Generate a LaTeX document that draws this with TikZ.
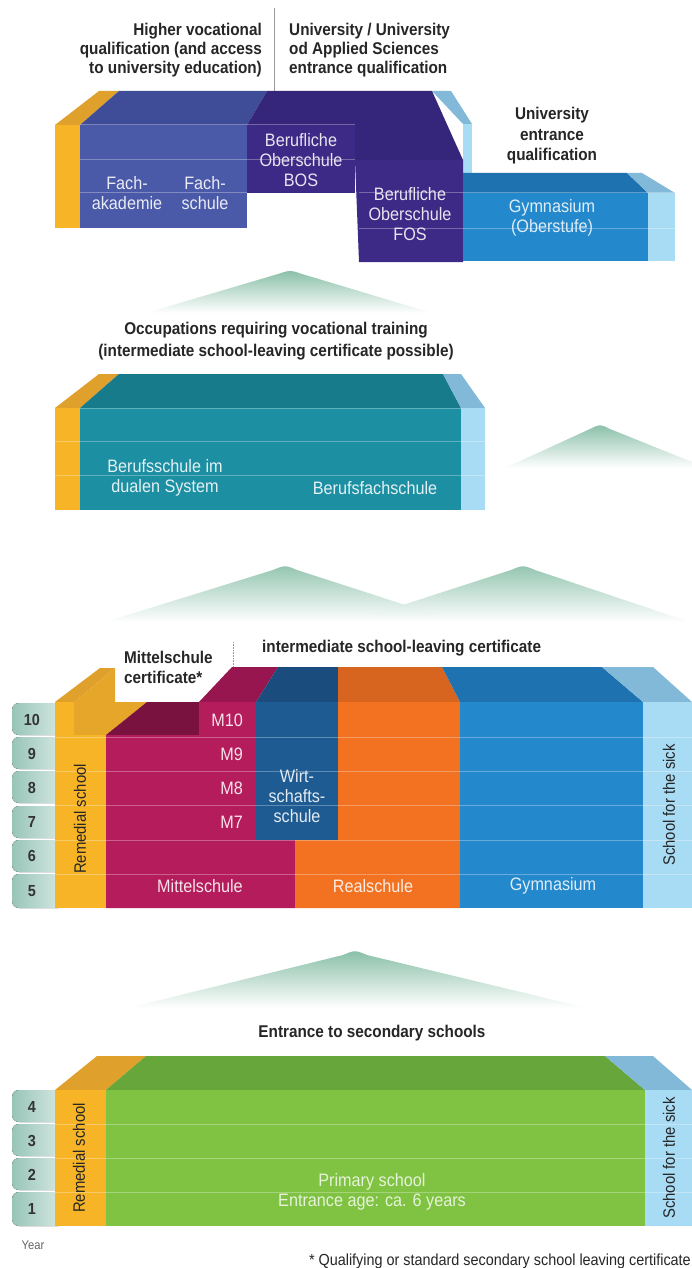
\documentclass[tikz,border=0pt]{standalone}
\usepackage{fontspec}
\setmainfont{Liberation Sans}[FakeStretch=0.9]

\definecolor{remedial}{HTML}{F6B426}
\definecolor{remedialtop}{HTML}{DFA02C}
\definecolor{fach}{HTML}{4A59A8}
\definecolor{fachtop}{HTML}{3F4D99}
\definecolor{bos}{HTML}{3C2A86}
\definecolor{bostop}{HTML}{36267B}
\definecolor{gym}{HTML}{2488CC}
\definecolor{gymtop}{HTML}{1F72B0}
\definecolor{sick}{HTML}{A8DCF4}
\definecolor{sicktop}{HTML}{82B9D8}
\definecolor{dual}{HTML}{1C8FA2}
\definecolor{dualtop}{HTML}{177B8C}
\definecolor{mittel}{HTML}{B51C5B}
\definecolor{mitteltop}{HTML}{981650}
\definecolor{wirt}{HTML}{1D5B92}
\definecolor{wirttop}{HTML}{1A4D7E}
\definecolor{real}{HTML}{F27222}
\definecolor{realtop}{HTML}{D8651F}
\definecolor{primary}{HTML}{80C242}
\definecolor{primarytop}{HTML}{67A63A}
\definecolor{mtn}{HTML}{88BFA8}
\definecolor{yeartabc}{HTML}{98C5B8}
\definecolor{headc}{HTML}{262626}

\begin{document}
\begin{tikzpicture}[x=1pt,y=-1pt]

\tikzstyle{head}=[text=headc, font=\bfseries\fontsize{17}{18.8}\selectfont, inner sep=0pt]
\tikzstyle{blocktext}=[font=\fontsize{18}{20}\selectfont, align=center, inner sep=0pt]
\tikzstyle{rowline}=[white, opacity=0.3, line width=1pt]
\tikzstyle{yeartab}=[left color=yeartabc, right color=yeartabc!35, rounded corners=7pt]
\tikzstyle{yearnum}=[text=black!80, font=\bfseries\fontsize{16}{18}\selectfont, inner sep=0pt]
\tikzstyle{mountain}=[top color=mtn, bottom color=white]
\tikzstyle{sidetext}=[rotate=90, font=\fontsize{16.5}{18}\selectfont, inner sep=0pt]

\useasboundingbox[fill=white] (0,0) rectangle (692,1268);

% upper secondary
\node[head, align=right, anchor=north east] (hv) at (262,23) {Higher vocational\\qualification (and access\\to university education)};
\node[head, align=left, anchor=north west] (uq) at (289,23) {University / University\\od Applied Sciences\\entrance qualification};
\node[head, align=center, font=\bfseries\fontsize{17}{20.5}\selectfont] (uqe) at (552,136) {University\\entrance\\qualification};
\draw[black!40, line width=0.6pt] (274,8) -- (274,91);

\fill[sicktop] (432,91) -- (451,91) -- (472,124) -- (463,124) -- cycle;
\fill[sick] (463,124) rectangle (472,175);
\fill[remedialtop] (55,125) -- (99,91) -- (119,91) -- (80,125) -- cycle;
\fill[remedial] (55,125) rectangle (80,228);
\fill[fachtop] (80,125) -- (119,91) -- (267,91) -- (247,125) -- cycle;
\fill[fach] (80,125) rectangle (247,228);
\fill[bostop] (247,125) -- (267,91) -- (432,91) -- (463,160) -- (355,160) -- (355,125) -- cycle;
\fill[bos] (247,125) rectangle (355,193);
\fill[bos] (355,160) -- (463,160) -- (463,262) -- (359,262) -- cycle;
\fill[gymtop] (463,193) -- (463,173) -- (627,173) -- (648,193) -- cycle;
\fill[gym] (463,193) rectangle (648,261);
\fill[sicktop] (627,173) -- (642,173) -- (675,193) -- (648,193) -- cycle;
\fill[sick] (648,193) rectangle (675,261);
\draw[rowline] (80,125) -- (355,125);
\draw[rowline] (80,160) -- (355,160);
\draw[rowline] (80,193) -- (247,193);
\draw[rowline] (359,193) -- (675,193);
\draw[rowline] (359,228) -- (675,228);

\node[blocktext, text=fach!12!white] (fa) at (127,193) {Fach-\\akademie};
\node[blocktext, text=fach!12!white] (fs) at (205,193) {Fach-\\schule};
\node[blocktext, text=bos!12!white] (bos) at (301,160) {Berufliche\\Oberschule\\BOS};
\node[blocktext, text=bos!12!white] (fos) at (410,214) {Berufliche\\Oberschule\\FOS};
\node[blocktext, text=gym!15!white] (gyo) at (552,218) {Gymnasium\\(Oberstufe)};

\shade[mountain] (146,313) -- (278,274) .. controls (290,270) .. (302,274) -- (432,313) -- cycle;

% vocational training
\node[head, align=center, font=\bfseries\fontsize{17}{22}\selectfont] (occ) at (276,341) {Occupations requiring vocational training\\(intermediate school-leaving certificate possible)};

\fill[remedialtop] (55,408) -- (99,374) -- (119,374) -- (80,408) -- cycle;
\fill[remedial] (55,408) rectangle (80,510);
\fill[dualtop] (80,408) -- (119,374) -- (443,374) -- (461,408) -- cycle;
\fill[dual] (80,408) rectangle (461,510);
\fill[sicktop] (443,374) -- (461,374) -- (485,408) -- (461,408) -- cycle;
\fill[sick] (461,408) rectangle (485,510);
\draw[rowline] (80,408) -- (461,408);
\draw[rowline] (55,441) -- (485,441);
\draw[rowline] (55,475) -- (485,475);

\node[blocktext, text=dual!12!white] (bsd) at (165,478) {Berufsschule im\\dualen System};
\node[blocktext, text=dual!12!white] (bfs) at (375,488) {Berufsfachschule};

\shade[mountain] (505,468) -- (590,429) .. controls (600,424) .. (610,429) -- (692,462) -- (692,468) -- cycle;
\shade[mountain, opacity=0.9] (105,622) -- (273,570) .. controls (285,565) .. (297,570) -- (458,622) -- cycle;
\shade[mountain, opacity=0.9] (350,622) -- (511,570) .. controls (523,565) .. (535,570) -- (690,622) -- cycle;

% lower secondary
\node[head, align=left, anchor=north west, font=\bfseries\fontsize{17}{20}\selectfont] (msc) at (124,651) {Mittelschule\\certificate*};
\node[head, anchor=west] (isc) at (262,648) {intermediate school-leaving certificate};
\draw[black!40, line width=0.6pt, densely dotted] (233,642) -- (233,668);

\fill[yeartab] (12,703) rectangle (66,735);
\fill[yeartab] (12,737) rectangle (66,769);
\fill[yeartab] (12,771) rectangle (66,803);
\fill[yeartab] (12,806) rectangle (66,838);
\fill[yeartab] (12,840) rectangle (66,872);
\fill[yeartab] (12,874) rectangle (66,908);

\fill[remedialtop] (55,702) -- (100,668) -- (115,668) -- (74,702) -- cycle;
\fill[remedialtop!70!remedial] (74,702) -- (115,668) -- (115,702) -- (147,702) -- (106,735) -- (74,735) -- cycle;
\fill[remedial] (55,735) rectangle (106,908);
\fill[remedial] (55,702) rectangle (74,735);
\fill[mitteltop] (199,702) -- (232,667) -- (278,667) -- (256,702) -- cycle;
\fill[wirttop] (256,702) -- (278,667) -- (338,667) -- (338,702) -- cycle;
\fill[realtop] (338,702) -- (338,667) -- (442,667) -- (460,702) -- cycle;
\fill[gymtop] (460,702) -- (442,667) -- (602,667) -- (643,702) -- cycle;
\fill[sicktop] (643,702) -- (602,667) -- (653,667) -- (692,702) -- cycle;
\fill[mitteltop!80!black] (106,735) -- (147,702) -- (199,702) -- (199,735) -- cycle;
\fill[mittel] (199,702) -- (256,702) -- (256,840) -- (295,840) -- (295,908) -- (106,908) -- (106,735) -- (199,735) -- cycle;
\fill[wirt] (256,702) rectangle (338,840);
\fill[real] (338,702) -- (460,702) -- (460,908) -- (295,908) -- (295,840) -- (338,840) -- cycle;
\fill[gym] (460,702) rectangle (643,908);
\fill[sick] (643,702) rectangle (692,908);
\draw[rowline] (55,737) -- (692,737);
\draw[rowline] (55,771) -- (692,771);
\draw[rowline] (55,805) -- (692,805);
\draw[rowline] (55,840) -- (692,840);
\draw[rowline] (55,874) -- (692,874);

\node[yearnum] (y10) at (32,720) {10};
\node[yearnum] (y9) at (32,754) {9};
\node[yearnum] (y8) at (32,788) {8};
\node[yearnum] (y7) at (32,822) {7};
\node[yearnum] (y6) at (32,856) {6};
\node[yearnum] (y5) at (32,891) {5};

\node[sidetext, text=black!85] (rs1) at (80,819) {Remedial school};
\node[blocktext, text=mittel!12!white, anchor=east] (m10) at (243,720) {M10};
\node[blocktext, text=mittel!12!white, anchor=east] (m9) at (243,754) {M9};
\node[blocktext, text=mittel!12!white, anchor=east] (m8) at (243,788) {M8};
\node[blocktext, text=mittel!12!white, anchor=east] (m7) at (243,822) {M7};
\node[blocktext, text=wirt!12!white] (wirt) at (297,796) {Wirt-\\schafts-\\schule};
\node[blocktext, text=mittel!12!white] (mit) at (200,886) {Mittelschule};
\node[blocktext, text=real!12!white] (real) at (373,886) {Realschule};
\node[blocktext, text=gym!15!white] (gym) at (553,886) {Gymnasium};
\node[sidetext, text=black!85] (sick1) at (669,805) {School for the sick};

\shade[mountain] (128,1008) -- (343,955) .. controls (355,950) .. (367,955) -- (587,1008) -- cycle;

% primary
\node[head] (ess) at (372,1033) {Entrance to secondary schools};

\fill[yeartab] (12,1090) rectangle (66,1122);
\fill[yeartab] (12,1124) rectangle (66,1156);
\fill[yeartab] (12,1158) rectangle (66,1190);
\fill[yeartab] (12,1192) rectangle (66,1226);

\fill[remedialtop] (55,1090) -- (97,1056) -- (146,1056) -- (106,1090) -- cycle;
\fill[remedial] (55,1090) rectangle (106,1226);
\fill[primarytop] (106,1090) -- (146,1056) -- (605,1056) -- (645,1090) -- cycle;
\fill[primary] (106,1090) rectangle (645,1226);
\fill[sicktop] (645,1090) -- (605,1056) -- (653,1056) -- (692,1090) -- cycle;
\fill[sick] (645,1090) rectangle (692,1226);
\draw[rowline] (55,1124) -- (692,1124);
\draw[rowline] (55,1158) -- (692,1158);
\draw[rowline] (55,1192) -- (692,1192);

\node[yearnum] (y4) at (32,1107) {4};
\node[yearnum] (y3) at (32,1141) {3};
\node[yearnum] (y2) at (32,1175) {2};
\node[yearnum] (y1) at (32,1209) {1};

\node[sidetext, text=black!85] (rs2) at (79,1158) {Remedial school};
\node[blocktext, text=primary!20!white] (prim) at (372,1192) {Primary school\\Entrance age: ca. 6 years};
\node[sidetext, text=black!85] (sick2) at (669,1158) {School for the sick};

\node[text=black!60, font=\fontsize{12.5}{14}\selectfont] (year) at (33,1245) {Year};
\node[text=headc, font=\fontsize{16}{18}\selectfont, anchor=east, inner sep=0pt] (fn) at (691,1261) {* Qualifying or standard secondary school leaving certificate};

\end{tikzpicture}
\end{document}
